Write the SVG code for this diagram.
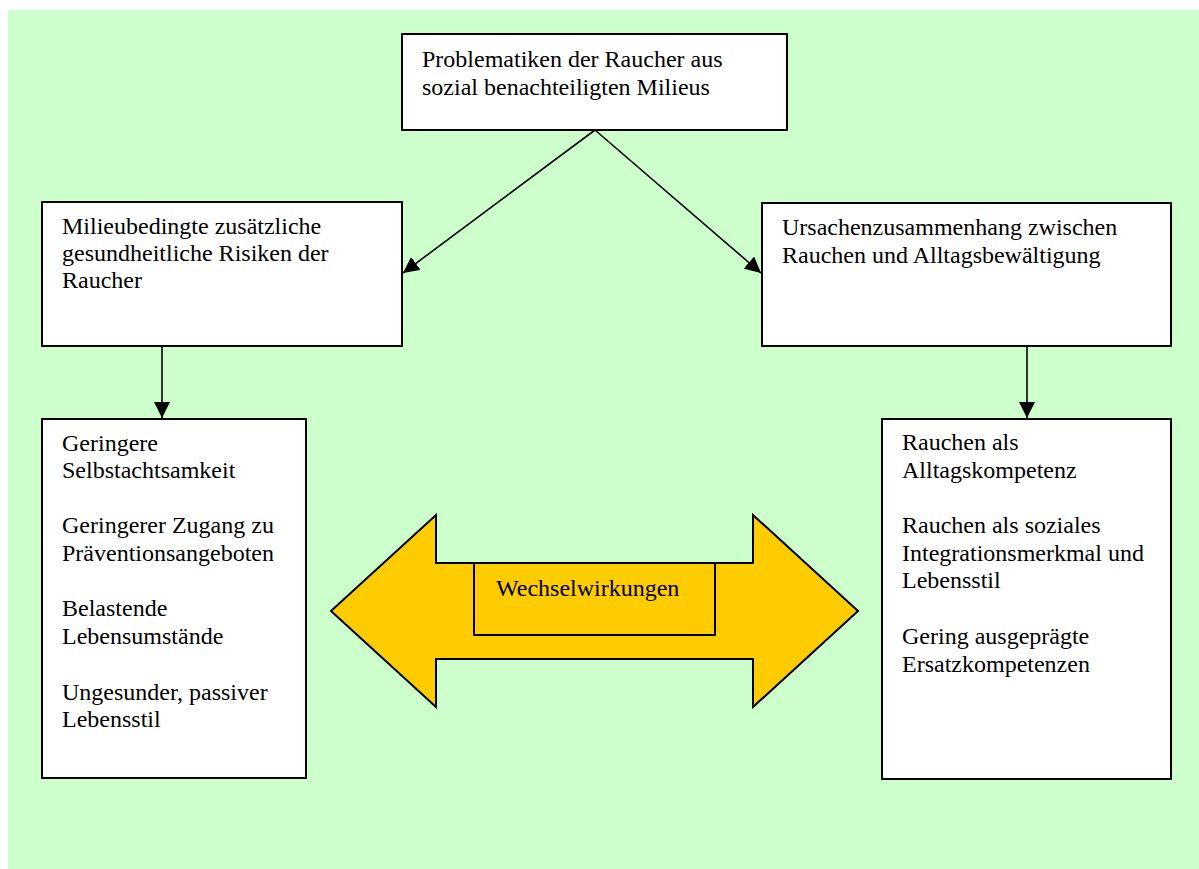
<svg xmlns="http://www.w3.org/2000/svg" width="1199" height="869" viewBox="0 0 1199 869">
<style>
.box{fill:#ffffff;stroke:#000000;stroke-width:2}
.t{font-family:"Liberation Serif","Times New Roman",serif;font-size:24px;fill:#000000}
.conn{stroke:#000000;stroke-width:1.6;fill:none;marker-end:url(#ah)}
</style>
<defs>
<marker id="ah" markerUnits="userSpaceOnUse" markerWidth="16" markerHeight="16" viewBox="0 0 16 16" refX="16" refY="8" orient="auto">
<path d="M0,0 L16,8 L0,16 Z" fill="#000000"/>
</marker>
</defs>
<rect x="8" y="10" width="1191" height="859" fill="#CCFFCC"/>
<g id="connectors">
<line class="conn" x1="595" y1="130" x2="403" y2="273"/>
<line class="conn" x1="595" y1="130" x2="761" y2="273"/>
<line class="conn" x1="162" y1="346" x2="162" y2="418"/>
<line class="conn" x1="1027" y1="346" x2="1027" y2="418"/>
</g>
<g id="top">
<rect class="box" x="402" y="34" width="385" height="96"/>
<text class="t" x="422" y="67">Problematiken der Raucher aus</text>
<text class="t" x="422" y="95">sozial benachteiligten Milieus</text>
</g>
<g id="left">
<rect class="box" x="42" y="202" width="360" height="144"/>
<text class="t" x="62" y="234">Milieubedingte zusätzliche</text>
<text class="t" x="62" y="261">gesundheitliche Risiken der</text>
<text class="t" x="62" y="288">Raucher</text>
</g>
<g id="right">
<rect class="box" x="762" y="203" width="409" height="143"/>
<text class="t" x="782" y="235">Ursachenzusammenhang zwischen</text>
<text class="t" x="782" y="263">Rauchen und Alltagsbewältigung</text>
</g>
<g id="left-bottom">
<rect class="box" x="42" y="419" width="264" height="359"/>
<text class="t" x="62" y="451">Geringere</text>
<text class="t" x="62" y="478">Selbstachtsamkeit</text>
<text class="t" x="62" y="533">Geringerer Zugang zu</text>
<text class="t" x="62" y="561">Präventionsangeboten</text>
<text class="t" x="62" y="616">Belastende</text>
<text class="t" x="62" y="644">Lebensumstände</text>
<text class="t" x="62" y="700">Ungesunder, passiver</text>
<text class="t" x="62" y="727">Lebensstil</text>
</g>
<g id="right-bottom">
<rect class="box" x="882" y="419" width="289" height="360"/>
<text class="t" x="902" y="450">Rauchen als</text>
<text class="t" x="902" y="478">Alltagskompetenz</text>
<text class="t" x="902" y="533">Rauchen als soziales</text>
<text class="t" x="902" y="561">Integrationsmerkmal und</text>
<text class="t" x="902" y="588">Lebensstil</text>
<text class="t" x="902" y="644">Gering ausgeprägte</text>
<text class="t" x="902" y="672">Ersatzkompetenzen</text>
</g>
<g id="wechselwirkungen">
<polygon points="331,611 436,515 436,563 753,563 753,515 858,611 753,707 753,659 436,659 436,707" fill="#FFCC00" stroke="#000000" stroke-width="2" stroke-linejoin="miter"/>
<rect x="474" y="563" width="241" height="72" fill="#FFCC00" stroke="#000000" stroke-width="2"/>
<text class="t" x="496" y="596">Wechselwirkungen</text>
</g>
</svg>
